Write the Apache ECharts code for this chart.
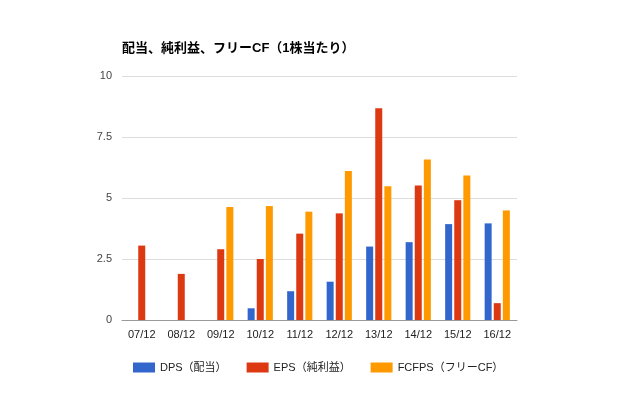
<!DOCTYPE html>
<html>
<head>
<meta charset="utf-8">
<script src="https://cdn.jsdelivr.net/npm/echarts@6/dist/echarts.min.js"></script>
<style>
  html, body { margin: 0; padding: 0; background: #fff; }
  #chart { width: 640px; height: 396px; }
</style>
</head>
<body>
<div id="chart"></div>
<script>
const categories = ['07/12', '08/12', '09/12', '10/12', '11/12', '12/12', '13/12', '14/12', '15/12', '16/12']
const dps = [null, null, null, 0.48, 1.18, 1.57, 3.01, 3.19, 3.93, 3.96]
const eps = [3.05, 1.89, 2.9, 2.5, 3.54, 4.37, 8.68, 5.51, 4.91, 0.69]
const fcfps = [null, null, 4.63, 4.67, 4.44, 6.11, 5.48, 6.58, 5.92, 4.49]
const yTicks = ['0', '2.5', '5', '7.5', '10']

const font = '"Liberation Sans", Arial, "Noto Sans CJK JP", sans-serif'
const chart = echarts.init(document.getElementById('chart'), null, { renderer: 'canvas' })

function barSeries(name, data, color) {
  return {
    name,
    type: 'bar',
    data,
    barWidth: 7,
    barGap: '30%',
    itemStyle: { color },
    emphasis: { disabled: true }
  }
}

chart.setOption({
  animation: false,
  backgroundColor: '#fff',
  textStyle: { fontFamily: font },
  title: {
    text: '配当、純利益、フリーCF（1株当たり）',
    left: 117,
    top: 37,
    textStyle: { fontSize: 13, fontWeight: 'bold', color: '#000', fontFamily: font }
  },
  grid: { left: 122, right: 123, top: 76, bottom: 76 },
  legend: {
    bottom: 18,
    left: 128,
    itemWidth: 22,
    itemHeight: 10,
    itemGap: 20,
    icon: 'rect',
    textStyle: { fontSize: 11, color: '#222', fontFamily: font }
  },
  xAxis: {
    type: 'category',
    data: categories,
    axisLine: { lineStyle: { color: '#999', width: 1 } },
    axisTick: { show: false },
    axisLabel: { color: '#222', fontSize: 11, margin: 9 }
  },
  yAxis: {
    type: 'value',
    min: 0,
    max: 10,
    interval: 2.5,
    axisLine: { show: false },
    axisTick: { show: false },
    axisLabel: {
      color: '#444',
      fontSize: 11,
      margin: 10,
      formatter: (v) => yTicks[Math.round(v / 2.5)]
    },
    splitLine: { lineStyle: { color: '#ddd' } }
  },
  series: [
    barSeries('DPS（配当）', dps, '#3366cc'),
    barSeries('EPS（純利益）', eps, '#dc3912'),
    barSeries('FCFPS（フリーCF）', fcfps, '#ff9900')
  ]
})
</script>
</body>
</html>
